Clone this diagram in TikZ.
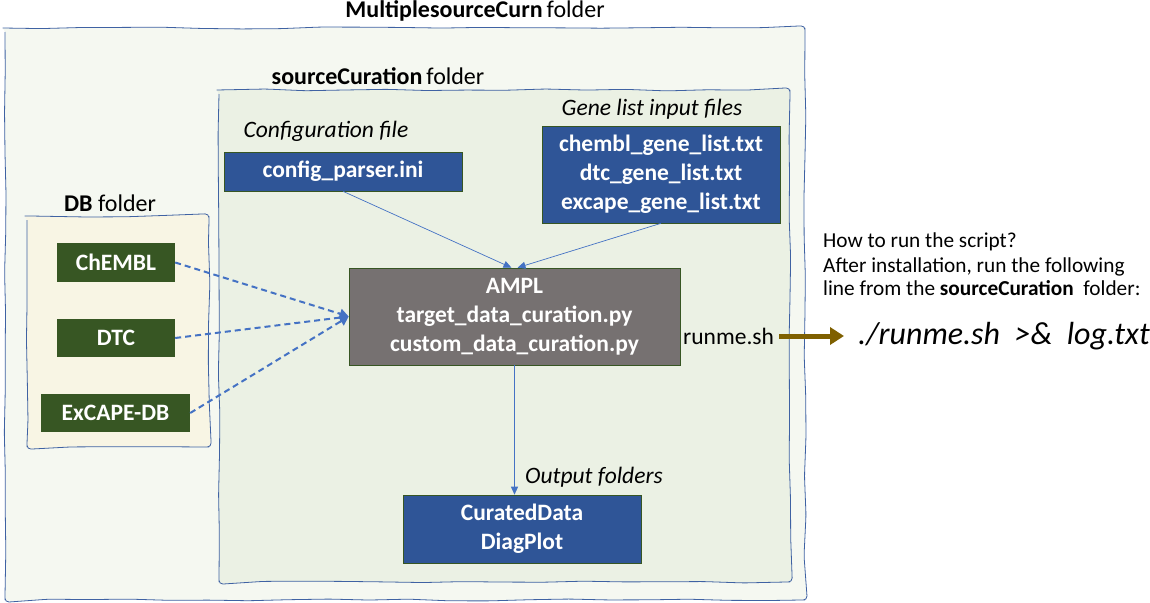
\documentclass[tikz,border=0pt]{standalone}
\usepackage{fontspec}
\setmainfont{Carlito}
\usetikzlibrary{arrows.meta,decorations.pathmorphing,calc}
\definecolor{outerfill}{HTML}{F5F8F1}
\definecolor{innerfill}{HTML}{EBF1E4}
\definecolor{dbfill}{HTML}{F8F5E4}
\definecolor{folderline}{HTML}{3F62A3}
\definecolor{boxblue}{HTML}{2F5597}
\definecolor{boxgreen}{HTML}{375623}
\definecolor{boxgray}{HTML}{767171}
\definecolor{arrowblue}{HTML}{4472C4}
\definecolor{arrowbrown}{HTML}{7F6000}
\tikzset{
  folder/.style={draw=folderline, line width=0.8pt, decorate,
    decoration={random steps, segment length=40pt, amplitude=1pt}, rounded corners=4pt},
  boxtext/.style={text=white, font=\fontsize{23.5}{29}\selectfont\bfseries, align=center, inner sep=0pt},
  bluebox/.style={boxtext, fill=boxblue, draw=boxgreen, line width=0.6pt},
  greenbox/.style={boxtext, fill=boxgreen},
  graybox/.style={boxtext, fill=boxgray, draw=boxgreen, line width=0.6pt},
  title/.style={font=\fontsize{24}{28}\selectfont, inner sep=0pt},
  label/.style={font=\fontsize{23.5}{27}\selectfont\itshape, inner sep=0pt},
  note/.style={font=\fontsize{21.3}{25}\selectfont, inner sep=0pt, anchor=base west},
  thinarrow/.style={draw=arrowblue, line width=0.7pt, -{Triangle[length=8pt,width=7pt]}},
  dasharrow/.style={draw=arrowblue, line width=2pt, dash pattern=on 6pt off 4pt, -{Triangle[length=9pt,width=10pt]}},
  brownarrow/.style={draw=arrowbrown, line width=5pt, -{Triangle[length=14pt,width=17pt]}}
}
\begin{document}
\begin{tikzpicture}[x=1pt,y=-1pt]
\useasboundingbox (0,0) rectangle (1150,602);
\pgfmathsetseed{7}
% folders
\path[folder, fill=outerfill] (5,28) rectangle (805,600);
\node[title] (outert) at (475,11) {\textbf{MultiplesourceCurn}\,folder};
\path[folder, fill=innerfill] (219,90) rectangle (790,582);
\node[title] (innert) at (378,76) {\textbf{sourceCuration}\,folder};
\path[folder, fill=dbfill] (27,216) rectangle (209,447);
\node[title] (dbt) at (110,203) {\textbf{DB} folder};
% boxes
\node[bluebox, minimum width=238, minimum height=39] (cfg) at (343,171.5) {config\_parser.ini};
\node[label] (cfgl) at (326,131) {Configuration file};
\node[bluebox, minimum width=238, minimum height=97] (gene) at (661,174.5) {chembl\_gene\_list.txt\\dtc\_gene\_list.txt\\excape\_gene\_list.txt};
\node[label] (genel) at (652,109) {Gene list input files};
\node[graybox, minimum width=331, minimum height=97] (ampl) at (514.5,316.5) {AMPL\\target\_data\_curation.py\\custom\_data\_curation.py};
\node[bluebox, minimum width=238, minimum height=68] (out) at (522,529) {CuratedData\\DiagPlot};
\node[label] (outl) at (594,477) {Output folders};
\node[greenbox, minimum width=118, minimum height=39] (chembl) at (116,262.5) {ChEMBL};
\node[greenbox, minimum width=118, minimum height=38] (dtc) at (116,338) {DTC};
\node[greenbox, minimum width=149, minimum height=38] (excape) at (115.5,413) {ExCAPE-DB};
% run notes
\node[font=\fontsize{23.5}{27}\selectfont, inner sep=0pt, anchor=west] (runme) at (683,336) {runme.sh};
\node[font=\fontsize{32}{36}\selectfont\itshape, inner sep=0pt, anchor=west] (cmd) at (858,336) {./runme.sh\ \ >\&\ \ log.txt};
\node[note] (n1) at (823,247) {How to run the script?};
\node[note] (n2) at (823,272) {After installation, run the following};
\node[note] (n3) at (823,295) {line from the \textbf{sourceCuration}\ \ folder:};
% connectors
\draw[thinarrow] (cfg.south) -- ($(ampl.north)+(-3,0)$);
\draw[thinarrow] (gene.south) -- ($(ampl.north)+(3,0)$);
\draw[thinarrow] (ampl.south) -- (ampl.south |- out.north);
\draw[dasharrow] (chembl.east) -- (ampl.west);
\draw[dasharrow] (dtc.east) -- (ampl.west);
\draw[dasharrow] (excape.east) -- (ampl.west);
\draw[brownarrow] ($(runme.east)+(5,0)$) -- ($(cmd.west)+(-14,0)$);
\end{tikzpicture}
\end{document}
